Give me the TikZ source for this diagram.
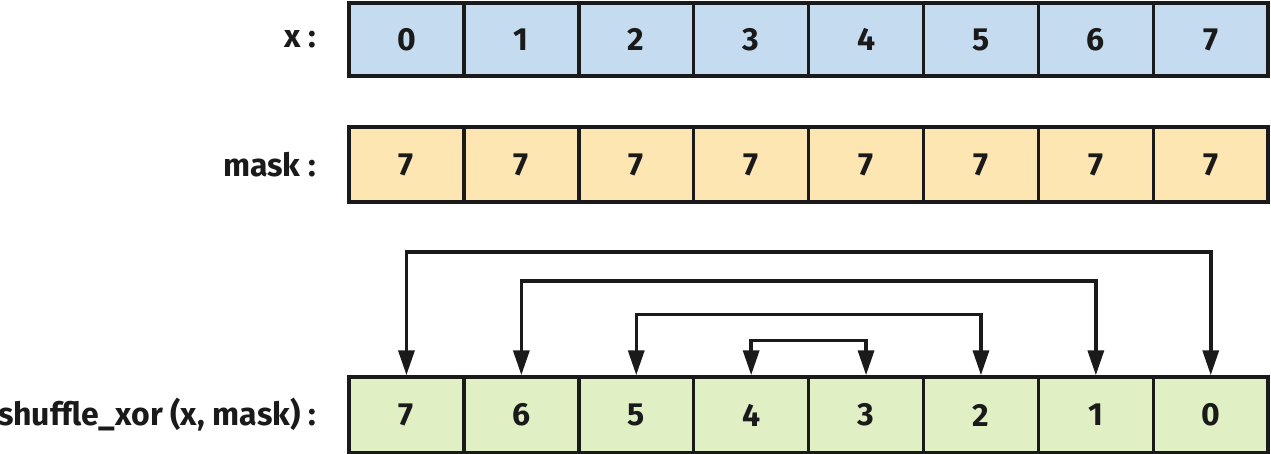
\documentclass[tikz,border=0pt]{standalone}
\usepackage{fontspec}
\setmainfont{Fira Sans}
\usetikzlibrary{arrows.meta}
\definecolor{cblue}{HTML}{C5DCF0}
\definecolor{cyellow}{HTML}{FDE6B2}
\definecolor{cgreen}{HTML}{E1F0C4}
\definecolor{cline}{HTML}{1A1A1A}
\begin{document}
\begin{tikzpicture}[x=1pt,y=-1pt,
  cell/.style={draw=cline,line width=3.5pt,minimum width=114.9pt,inner sep=0pt,font=\fontsize{32}{34}\selectfont\bfseries,text=cline},
  lab/.style={anchor=east,font=\fontsize{32}{34}\selectfont\bfseries,text=cline,inner sep=0pt},
  conn/.style={draw=cline,line width=3.5pt,{Triangle[length=25pt,width=16pt]}-{Triangle[length=25pt,width=16pt]}}
]
\useasboundingbox (0,0) rectangle (1271,454);
\foreach \i/\v in {0/0,1/1,2/2,3/3,4/4,5/5,6/6,7/7} {
  \node[cell,fill=cblue,minimum height=73pt] (a\i) at ({349+114.9*(\i+0.5)},39.5) {\v};
}
\foreach \i/\v in {0/7,1/7,2/7,3/7,4/7,5/7,6/7,7/7} {
  \node[cell,fill=cyellow,minimum height=75pt] (b\i) at ({349+114.9*(\i+0.5)},164.5) {\v};
}
\foreach \i/\v in {0/7,1/6,2/5,3/4,4/3,5/2,6/1,7/0} {
  \node[cell,fill=cgreen,minimum height=76pt] (c\i) at ({349+114.9*(\i+0.5)},415) {\v};
}
\node[lab] (la) at (316,39.5) {x :};
\node[lab] (lb) at (316,164.5) {mask :};
\node[lab] (lc) at (316,415) {shuffle\_xor (x, mask) :};
\draw[conn] (c0.north) -- ++(0,-123) -| (c7.north);
\draw[conn] (c1.north) -- ++(0,-94) -| (c6.north);
\draw[conn] (c2.north) -- ++(0,-61) -| (c5.north);
\draw[conn] (c3.north) -- ++(0,-35) -| (c4.north);
\end{tikzpicture}
\end{document}
